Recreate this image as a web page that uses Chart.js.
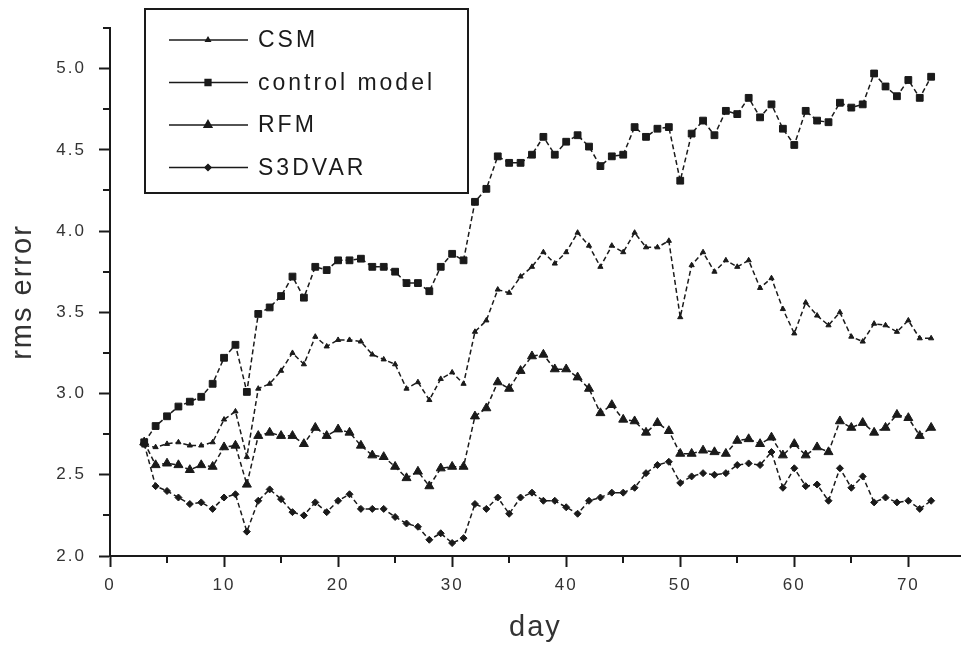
<!DOCTYPE html>
<html>
<head>
<meta charset="utf-8">
<title>rms error</title>
<script src="https://cdn.jsdelivr.net/npm/chart.js@4.4.1/dist/chart.umd.min.js"></script>
<style>
  html, body { margin: 0; padding: 0; background: #fff; }
  #wrap { width: 967px; height: 645px; }
</style>
</head>
<body>
<div id="wrap"><canvas id="rmsChart" width="967" height="645"></canvas></div>
<script>
const days = [3, 4, 5, 6, 7, 8, 9, 10, 11, 12,
    13, 14, 15, 16, 17, 18, 19, 20, 21, 22,
    23, 24, 25, 26, 27, 28, 29, 30, 31, 32,
    33, 34, 35, 36, 37, 38, 39, 40, 41, 42,
    43, 44, 45, 46, 47, 48, 49, 50, 51, 52,
    53, 54, 55, 56, 57, 58, 59, 60, 61, 62,
    63, 64, 65, 66, 67, 68, 69, 70, 71, 72];

const csm = [2.68, 2.67, 2.69, 2.70, 2.68, 2.68, 2.70, 2.84, 2.89, 2.61,
    3.03, 3.06, 3.14, 3.25, 3.18, 3.35, 3.29, 3.33, 3.33, 3.32,
    3.24, 3.21, 3.18, 3.03, 3.07, 2.96, 3.09, 3.13, 3.06, 3.38,
    3.45, 3.64, 3.62, 3.72, 3.78, 3.87, 3.80, 3.87, 3.99, 3.91,
    3.78, 3.91, 3.87, 3.99, 3.90, 3.90, 3.94, 3.47, 3.79, 3.87,
    3.75, 3.82, 3.78, 3.82, 3.65, 3.71, 3.52, 3.37, 3.56, 3.48,
    3.42, 3.50, 3.35, 3.32, 3.43, 3.42, 3.38, 3.45, 3.34, 3.34];

const controlModel = [2.70, 2.80, 2.86, 2.92, 2.95, 2.98, 3.06, 3.22, 3.30, 3.01,
    3.49, 3.53, 3.60, 3.72, 3.59, 3.78, 3.76, 3.82, 3.82, 3.83,
    3.78, 3.78, 3.75, 3.68, 3.68, 3.63, 3.78, 3.86, 3.82, 4.18,
    4.26, 4.46, 4.42, 4.42, 4.47, 4.58, 4.47, 4.55, 4.59, 4.52,
    4.40, 4.46, 4.47, 4.64, 4.58, 4.63, 4.64, 4.31, 4.60, 4.68,
    4.59, 4.74, 4.72, 4.82, 4.70, 4.78, 4.63, 4.53, 4.74, 4.68,
    4.67, 4.79, 4.76, 4.78, 4.97, 4.89, 4.83, 4.93, 4.82, 4.95];

const rfm = [2.70, 2.56, 2.57, 2.56, 2.53, 2.56, 2.55, 2.67, 2.68, 2.44,
    2.74, 2.76, 2.74, 2.74, 2.69, 2.79, 2.74, 2.78, 2.76, 2.68,
    2.62, 2.61, 2.55, 2.48, 2.52, 2.43, 2.54, 2.55, 2.55, 2.86,
    2.91, 3.07, 3.03, 3.14, 3.23, 3.24, 3.15, 3.15, 3.10, 3.03,
    2.88, 2.93, 2.84, 2.83, 2.76, 2.82, 2.77, 2.63, 2.63, 2.65,
    2.64, 2.63, 2.71, 2.72, 2.69, 2.73, 2.62, 2.69, 2.62, 2.67,
    2.64, 2.83, 2.79, 2.82, 2.76, 2.79, 2.87, 2.85, 2.74, 2.79];

const s3dvar = [2.69, 2.43, 2.40, 2.36, 2.32, 2.33, 2.29, 2.36, 2.38, 2.15,
    2.34, 2.41, 2.35, 2.27, 2.25, 2.33, 2.27, 2.34, 2.38, 2.29,
    2.29, 2.29, 2.24, 2.20, 2.18, 2.10, 2.14, 2.08, 2.11, 2.32,
    2.29, 2.36, 2.26, 2.36, 2.39, 2.34, 2.34, 2.30, 2.26, 2.34,
    2.36, 2.39, 2.39, 2.42, 2.51, 2.56, 2.58, 2.45, 2.49, 2.51,
    2.50, 2.51, 2.56, 2.57, 2.56, 2.64, 2.42, 2.54, 2.43, 2.44,
    2.34, 2.54, 2.42, 2.49, 2.33, 2.36, 2.33, 2.34, 2.29, 2.34];

const xTicks = [0, 10, 20, 30, 40, 50, 60, 70];
const xMinorTicks = [5, 15, 25, 35, 45, 55, 65];
const yTicks = [2.0, 2.5, 3.0, 3.5, 4.0, 4.5, 5.0];
const yMinorTicks = [2.25, 2.75, 3.25, 3.75, 4.25, 4.75, 5.25];

const ink = '#1a1a1a';
const textInk = '#333';
const fontFamily = '"Liberation Sans", Arial, sans-serif';

function series(label, values, style, radius) {
    return {
        label: label,
        data: days.map((d, i) => ({ x: d, y: values[i] })),
        borderColor: ink,
        backgroundColor: ink,
        borderWidth: 1.5,
        borderDash: [5, 3],
        pointStyle: style,
        pointRadius: radius,
        pointBorderWidth: 1,
        pointBackgroundColor: ink,
        pointBorderColor: ink,
        tension: 0
    };
}

// minor ticks plus the boxed legend in the upper left
const extras = {
    id: 'extras',
    beforeDraw(chart) {
        chart.ctx.letterSpacing = '2px';
    },
    afterDraw(chart) {
        const ctx = chart.ctx;
        const xs = chart.scales.x;
        const ys = chart.scales.y;
        ctx.save();
        ctx.strokeStyle = ink;
        ctx.lineWidth = 2;
        ctx.beginPath();
        xMinorTicks.forEach(v => {
            const px = Math.round(xs.getPixelForValue(v));
            ctx.moveTo(px, ys.bottom);
            ctx.lineTo(px, ys.bottom + 7);
        });
        yMinorTicks.forEach(v => {
            const py = Math.round(ys.getPixelForValue(v));
            ctx.moveTo(xs.left - 7, py);
            ctx.lineTo(xs.left, py);
        });
        ctx.stroke();

        // legend
        ctx.lineWidth = 2;
        ctx.strokeRect(145, 9, 323, 184);
        ctx.font = '23px ' + fontFamily;
        ctx.letterSpacing = '3px';
        ctx.fillStyle = ink;
        ctx.textBaseline = 'middle';
        ctx.textAlign = 'left';
        chart.data.datasets.forEach((ds, i) => {
            const y = 40 + i * 42.5;
            ctx.lineWidth = 1.5;
            ctx.beginPath();
            ctx.moveTo(169, y);
            ctx.lineTo(248, y);
            ctx.stroke();
            Chart.helpers.drawPoint(ctx, {
                pointStyle: ds.pointStyle,
                radius: ds.pointRadius * 0.85,
                borderWidth: 1
            }, 208, y);
            ctx.fill();
            ctx.fillText(ds.label, 258, y + 1);
        });
        ctx.restore();
    }
};

const ctx = document.getElementById('rmsChart').getContext('2d');

const rmsChart = new Chart(ctx, {
    type: 'line',
    data: {
        datasets: [
            series('CSM', csm, 'triangle', 3),
            series('control model', controlModel, 'rect', 4.8),
            series('RFM', rfm, 'triangle', 5.2),
            series('S3DVAR', s3dvar, 'rectRot', 3.5)
        ]
    },
    options: {
        animation: false,
        responsive: false,
        layout: { padding: { top: 28, right: 0, bottom: 0, left: 0 } },
        plugins: {
            legend: { display: false },
            tooltip: { enabled: false }
        },
        scales: {
            x: {
                type: 'linear',
                min: 0,
                max: 74.6,
                afterBuildTicks: scale => {
                    scale.ticks = xTicks.map(v => ({ value: v }));
                },
                afterFit: scale => { scale.height = 89; },
                grid: {
                    drawOnChartArea: false,
                    drawTicks: true,
                    tickLength: 11,
                    tickWidth: 2,
                    tickColor: ink
                },
                border: { display: true, color: ink, width: 2 },
                ticks: {
                    padding: 8,
                    color: textInk,
                    font: { family: fontFamily, size: 17 },
                    maxRotation: 0
                },
                title: {
                    display: true,
                    text: 'day',
                    color: textInk,
                    font: { family: fontFamily, size: 29 },
                    padding: { top: 0, bottom: 0 }
                }
            },
            y: {
                min: 2,
                max: 5.25,
                afterBuildTicks: scale => {
                    scale.ticks = yTicks.map(v => ({ value: v }));
                },
                afterFit: scale => { scale.width = 110; },
                grid: {
                    drawOnChartArea: false,
                    drawTicks: true,
                    tickLength: 11,
                    tickWidth: 2,
                    tickColor: ink
                },
                border: { display: true, color: ink, width: 2 },
                ticks: {
                    padding: 13,
                    color: textInk,
                    font: { family: fontFamily, size: 17 },
                    callback: v => v.toFixed(1)
                },
                title: {
                    display: true,
                    text: 'rms error',
                    color: textInk,
                    font: { family: fontFamily, size: 29 },
                    padding: { top: 6, bottom: 0 }
                }
            }
        }
    },
    plugins: [extras]
});
</script>
</body>
</html>
